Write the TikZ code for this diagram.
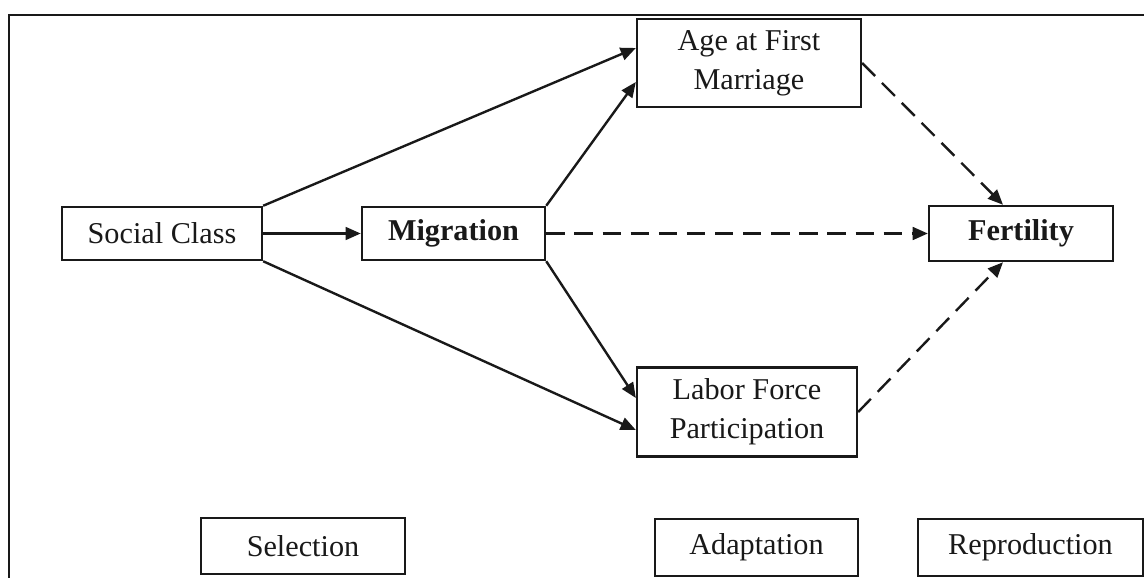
\documentclass[tikz,border=0pt]{standalone}
\usepackage{fontspec}
\setmainfont{Liberation Serif}
\usepackage{xcolor}
\definecolor{ink}{RGB}{25,25,25}
\usepackage{tikz}
\usetikzlibrary{arrows.meta,positioning}

\begin{document}
\begin{tikzpicture}[x=0.025cm, y=-0.025cm,
    font=\fontsize{21.5}{25}\selectfont,
    box/.style={rectangle, draw=ink, line width=1.6pt, align=center, text=ink, inner sep=0pt},
    line/.style={draw=ink, line width=1.7pt, -{Triangle[length=0.38cm, width=0.32cm]}},
    dline/.style={line, dash pattern=on 13pt off 7pt}]

    \useasboundingbox (0,0) rectangle (1144,578);

    % Frame
    \draw [ink, line width=1.6pt] (9,578) -- (9,15) -- (1150,15);

    % Left column
    \node [box, minimum width=5cm, minimum height=1.33cm] (social) at (162,233.5) {Social Class};
    \node [box, minimum width=4.58cm, minimum height=1.33cm] (migration) at (453.5,233.5) {\textbf{Migration}};

    % Middle column
    \node [box, minimum width=5.6cm, minimum height=2.2cm] (age) at (749,63) {Age at First\\[3pt]Marriage};
    \node [box, minimum width=5.5cm, minimum height=2.22cm] (labor) at (747,412) {Labor Force\\[3pt]Participation};

    % Right column
    \node [box, minimum width=4.6cm, minimum height=1.38cm] (fertility) at (1021,233.5) {\textbf{Fertility}};

    % Stage labels
    \node [box, minimum width=5.1cm, minimum height=1.4cm] (selection) at (303,546) {Selection};
    \node [box, minimum width=5.08cm, minimum height=1.42cm] (adaptation) at (756.5,547.5) {Adaptation};
    \node [box, minimum width=5.62cm, minimum height=1.42cm] (reproduction) at (1030.5,547.5) {Reproduction};

    % Connections
    \path [line] (social.north east) -- ([yshift=0.375cm]age.west);
    \path [line] (social) -- (migration);
    \path [line] (social.south east) -- ([yshift=-0.45cm]labor.west);
    \path [line] (migration.north east) -- ([yshift=-0.475cm]age.west);
    \path [line] (migration.south east) -- ([yshift=0.35cm]labor.west);
    \path [dline] (migration) -- (fertility);
    \path [dline] (age.east) -- ([xshift=-0.45cm]fertility.north);
    \path [dline] (labor.east) -- ([xshift=-0.45cm]fertility.south);
\end{tikzpicture}
\end{document}
